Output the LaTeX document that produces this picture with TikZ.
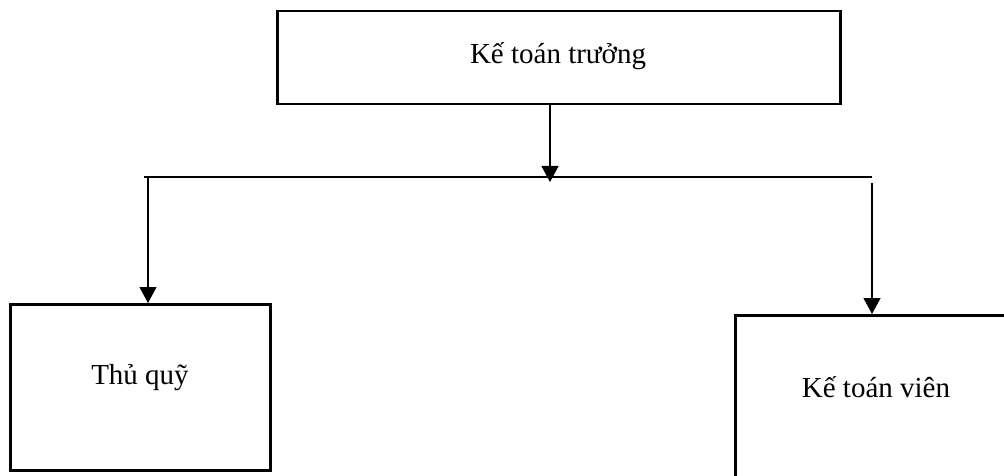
\documentclass[tikz,border=0pt]{standalone}
\usepackage{fontspec}
\setmainfont{Liberation Serif}
\usetikzlibrary{arrows.meta}
\begin{document}
\begin{tikzpicture}[x=1pt,y=-1pt,
  box/.style={draw, line width=2.5pt, inner sep=0pt, anchor=north west},
  lbl/.style={anchor=base, inner sep=0pt, font=\fontsize{29}{34}\selectfont},
  conn/.style={line width=1.2pt},
  arr/.style={conn, -{Triangle[width=17pt,length=16pt]}}]
\useasboundingbox (0,0) rectangle (1004,476);
\clip (0,0) rectangle (1004,476);

% boxes
\node[box, minimum width=563pt, minimum height=93pt] (chief) at (276,10) {};
\node[box, minimum width=260pt, minimum height=166pt] (cashier) at (9,303) {};
\node[box, minimum width=290pt, minimum height=180pt] (staff) at (734,314) {};

% box captions
\node[lbl] (chiefT) at (558,63.5) {Kế toán trưởng};
\node[lbl] (cashierT) at (140,384) {Thủ quỹ};
\node[lbl] (staffT) at (876,397) {Kế toán viên};

% distribution bar
\coordinate (busL) at (144,177);
\coordinate (busR) at (872,177);
\coordinate (busTip) at (550,182);
\coordinate (dropL) at (148,177);
\coordinate (dropR) at (872,183);

\draw[conn] (busL) -- (busR);
\draw[arr] (chief.south -| busTip) -- (busTip);
\draw[arr] (dropL) -- (cashier.north -| dropL);
\draw[arr] (dropR) -- (staff.north -| dropR);
\end{tikzpicture}
\end{document}
